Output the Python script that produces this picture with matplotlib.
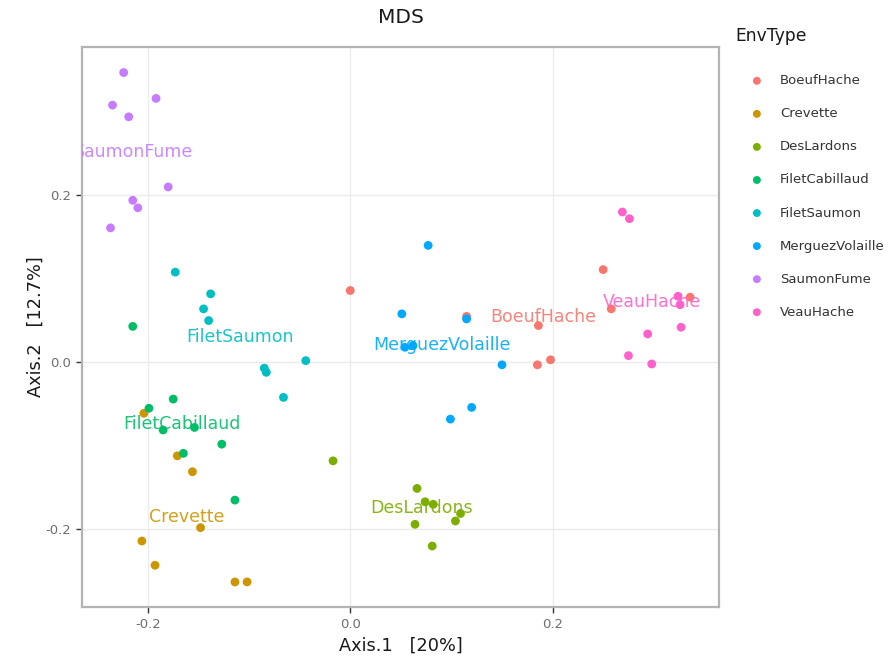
import numpy as np
import matplotlib.pyplot as plt

# MDS ordination coordinates per sample, grouped by environment type
groups = ['BoeufHache', 'Crevette', 'DesLardons', 'FiletCabillaud',
          'FiletSaumon', 'MerguezVolaille', 'SaumonFume', 'VeauHache']
colors = ['#F8766D', '#CD9600', '#7CAE00', '#00BE67',
          '#00BFC4', '#00A9FF', '#C77CFF', '#FF61CC']

axis1 = {
    'BoeufHache': [0.000, 0.115, 0.186, 0.185, 0.198, 0.250, 0.258, 0.336],
    'Crevette': [-0.204, -0.171, -0.156, -0.148, -0.206, -0.193, -0.114, -0.102],
    'DesLardons': [-0.017, 0.066, 0.074, 0.082, 0.109, 0.104, 0.064, 0.081],
    'FiletCabillaud': [-0.215, -0.175, -0.199, -0.185, -0.154, -0.127, -0.165, -0.114],
    'FiletSaumon': [-0.173, -0.138, -0.145, -0.140, -0.044, -0.085, -0.083, -0.066],
    'MerguezVolaille': [0.077, 0.051, 0.115, 0.054, 0.062, 0.150, 0.099, 0.120],
    'SaumonFume': [-0.224, -0.235, -0.192, -0.219, -0.180, -0.215, -0.210, -0.237],
    'VeauHache': [0.269, 0.276, 0.324, 0.326, 0.327, 0.294, 0.275, 0.298],
}
axis2 = {
    'BoeufHache': [0.086, 0.055, 0.044, -0.003, 0.003, 0.111, 0.064, 0.078],
    'Crevette': [-0.061, -0.112, -0.131, -0.198, -0.214, -0.243, -0.263, -0.263],
    'DesLardons': [-0.118, -0.151, -0.167, -0.170, -0.181, -0.190, -0.194, -0.220],
    'FiletCabillaud': [0.043, -0.044, -0.055, -0.081, -0.078, -0.098, -0.109, -0.165],
    'FiletSaumon': [0.108, 0.082, 0.064, 0.050, 0.002, -0.007, -0.012, -0.042],
    'MerguezVolaille': [0.140, 0.058, 0.052, 0.018, 0.020, -0.003, -0.068, -0.054],
    'SaumonFume': [0.347, 0.308, 0.316, 0.294, 0.210, 0.194, 0.185, 0.161],
    'VeauHache': [0.180, 0.172, 0.079, 0.069, 0.042, 0.034, 0.008, -0.002],
}

fig = plt.figure(figsize=(8.95, 6.6), dpi=100)
ax = fig.add_axes([0.0916, 0.0803, 0.7123, 0.8485])

for g, c in zip(groups, colors):
    ax.scatter(axis1[g], axis2[g], s=40, color=c, edgecolors='none', zorder=3, label=g)

# group names at the centroid of each group
for g, c in zip(groups, colors):
    ax.text(np.mean(axis1[g]), np.mean(axis2[g]), g, color=c, fontsize=12.5,
            ha='center', va='center', zorder=4, clip_on=True, alpha=0.9)

ax.set_xlim(-0.2652, 0.365)
ax.set_ylim(-0.293, 0.3776)
ax.set_xticks([-0.2, 0.0, 0.2])
ax.set_yticks([-0.2, 0.0, 0.2])
ax.set_xticklabels(['-0.2', '0.0', '0.2'])
ax.set_yticklabels(['-0.2', '0.0', '0.2'])
ax.grid(True, color='#ebebeb', linewidth=1, zorder=0)
ax.set_axisbelow(True)
for sp in ax.spines.values():
    sp.set_color('#b3b3b3')
    sp.set_linewidth(1.6)
ax.tick_params(length=4, width=1, color='#333333', labelcolor='#6e6e6e',
               labelsize=9.5, pad=4)

ax.set_xlabel('Axis.1   [20%]', fontsize=12.8, color='#1a1a1a', labelpad=4)
ax.set_ylabel('Axis.2   [12.7%]', fontsize=12.8, color='#1a1a1a', labelpad=0)
ax.set_title('MDS', fontsize=14.5, color='#1a1a1a', pad=17)

# legend: title placed on its own, entries below it
fig.text(735 / 895, 1 - 36 / 660, 'EnvType', fontsize=12.3, color='#1a1a1a',
         ha='left', va='center')
leg = ax.legend(loc='upper left', bbox_to_anchor=(745 / 895, 1 - 69 / 660),
                bbox_transform=fig.transFigure, frameon=False,
                fontsize=9.5, labelspacing=1.52, handletextpad=1.25,
                borderaxespad=0, borderpad=0.4, handlelength=1.0,
                markerscale=0.9)
for t in leg.get_texts():
    t.set_color('#333333')

fig.savefig('out.png', dpi=100)
